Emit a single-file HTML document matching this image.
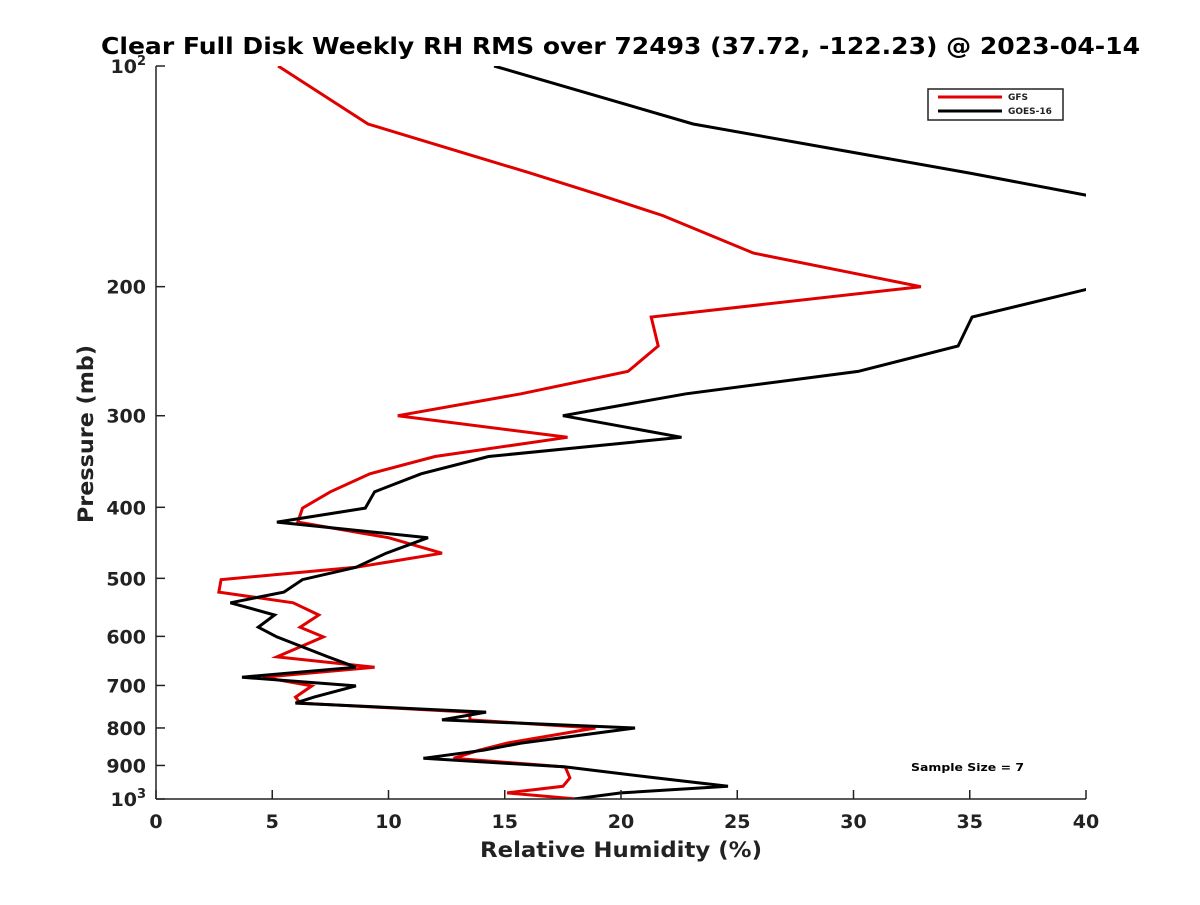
<!DOCTYPE html>
<html><head><meta charset="utf-8"><style>
body{margin:0;background:#fff;}
svg text{font-family:"DejaVu Sans","Liberation Sans",sans-serif;font-weight:bold;fill:#222;}
</style></head><body>
<svg id="chart" width="1200" height="900" xmlns="http://www.w3.org/2000/svg">
<defs><clipPath id="plotclip"><rect x="156" y="66" width="930" height="733"/></clipPath></defs>
<text x="101" y="54" font-size="23" textLength="1039" lengthAdjust="spacingAndGlyphs" style="fill:#000">Clear Full Disk Weekly RH RMS over 72493 (37.72, -122.23) @ 2023-04-14</text>
<g id="series" clip-path="url(#plotclip)"></g>
<g id="axes"></g>
<text x="480" y="857" font-size="21" textLength="282" lengthAdjust="spacingAndGlyphs">Relative Humidity (%)</text>
<text transform="translate(93,523) rotate(-90)" font-size="21" textLength="178" lengthAdjust="spacingAndGlyphs">Pressure (mb)</text>
<g>
<rect x="928" y="89" width="135" height="31" fill="#fff" stroke="#222" stroke-width="1.5"/>
<line x1="938" y1="97" x2="1002" y2="97" stroke="#e00000" stroke-width="3"/>
<text x="1008" y="100" font-size="9">GFS</text>
<line x1="938" y1="111" x2="1002" y2="111" stroke="#000" stroke-width="3"/>
<text x="1008" y="114" font-size="9">GOES-16</text>
</g>
<text x="911" y="771" font-size="11" textLength="113" lengthAdjust="spacingAndGlyphs" style="fill:#000">Sample Size = 7</text>
</svg>
<script>
const pressureLevels=[100,120,140,150,160,180,200,220,241,261,280,300,321,341,360,381,401,419,440,462,483,502,522,540,561,583,601,640,661,682,701,726,740,761,780,800,839,858,880,904,936,961,981,1000];
const gfsValues=[5.25,9.12,16.1,19.1,21.8,25.7,32.9,21.3,21.6,20.3,15.7,10.4,17.7,12.0,9.2,7.5,6.3,6.1,10.0,12.3,8.6,2.8,2.7,5.9,7.0,6.2,7.2,5.2,9.4,4.6,6.7,6.0,6.2,13.5,13.5,18.9,15.1,13.9,12.8,17.6,17.8,17.5,15.1,18.1];
const goesValues=[14.54,23.1,35.0,40,44,47,40.5,35.1,34.5,30.2,22.8,17.5,22.6,14.3,11.4,9.4,9.0,5.2,11.7,9.9,8.6,6.3,5.5,3.2,5.1,4.4,5.2,7.4,8.6,3.7,8.6,6.8,6.0,14.2,12.3,20.6,15.7,14.1,11.5,17.6,21.5,24.6,20.0,18.0];
const xTicks=[0,5,10,15,20,25,30,35,40];
const yTicks=[100,200,300,400,500,600,700,800,900,1000];
const yTickLabels=["10","200","300","400","500","600","700","800","900","10"];
const NS="http://www.w3.org/2000/svg";
const X0=156,X1=1086,Y0=66,Y1=799;
function xs(v){return X0+(v/40)*(X1-X0);}
function ys(p){return Y0+Math.log10(p/100)*(Y1-Y0);}
function mk(tag,attrs,parent){const e=document.createElementNS(NS,tag);for(const k in attrs)e.setAttribute(k,attrs[k]);parent.appendChild(e);return e;}
const sg=document.getElementById('series');
function drawLine(vals,color,name){
  const pts=vals.map((v,i)=>xs(v).toFixed(1)+','+ys(pressureLevels[i]).toFixed(1)).join(' ');
  const pl=mk('polyline',{points:pts,fill:'none',stroke:color,'stroke-width':3,'stroke-linejoin':'miter'},sg);
  
  
}
drawLine(gfsValues,'#e00000','gfs-line');
drawLine(goesValues,'#000','goes16-line');
const ax=document.getElementById('axes');
const xa=mk('line',{x1:X0,y1:Y1,x2:X1,y2:Y1,stroke:'#222','stroke-width':1.5},ax);


const ya=mk('line',{x1:X0,y1:Y0,x2:X0,y2:Y1,stroke:'#222','stroke-width':1.5},ax);


xTicks.forEach(t=>{
  const x=xs(t);
  mk('line',{x1:x,y1:Y1,x2:x,y2:Y1-9,stroke:'#222','stroke-width':1.5},ax);
  const tx=mk('text',{x:x,y:Y1+29,'font-size':19,'text-anchor':'middle'},ax);
  tx.textContent=t;
  
  
});
yTicks.forEach((t,i)=>{
  const y=ys(t);
  mk('line',{x1:X0,y1:y,x2:X0+9,y2:y,stroke:'#222','stroke-width':1.5},ax);
  const tx=mk('text',{x:X0-10,y:y+7,'font-size':19,'text-anchor':'end'},ax);
  
  
  if(t===100||t===1000){
    tx.textContent=yTickLabels[i];
    const s=document.createElementNS(NS,'tspan');
    s.setAttribute('font-size','13');s.setAttribute('dy','-8');
    s.textContent=t===100?'2':'3';
    tx.appendChild(s);
  } else tx.textContent=yTickLabels[i];
});
</script>
</body></html>
